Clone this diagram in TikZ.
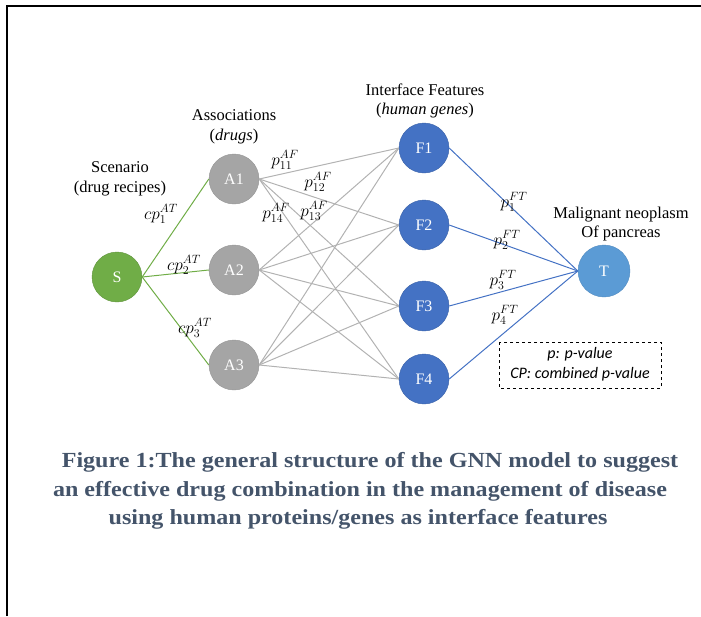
\documentclass[tikz,border=0pt]{standalone}
\usepackage{fontspec}
\usepackage{amsmath}
\setmainfont{Liberation Serif}
\newfontfamily\notefont{Carlito}
\newfontfamily\capfont[FakeStretch=1.12]{Liberation Serif}
\DeclareMathSizes{16}{16}{12}{9}
\definecolor{sgreen}{HTML}{70AD47}
\definecolor{agray}{HTML}{A5A5A5}
\definecolor{fblue}{HTML}{4472C4}
\definecolor{tblue}{HTML}{5B9BD5}
\definecolor{capcol}{HTML}{44546A}

\begin{document}
\begin{tikzpicture}[x=1pt,y=-1pt,
  circ/.style={circle,minimum size=50pt,inner sep=0pt,text=white,font=\fontsize{16}{16}\selectfont},
  lbl/.style={align=center,font=\fontsize{16.5}{19.5}\selectfont},
  wt/.style={font=\fontsize{16}{16}\selectfont,inner sep=0pt},
  captext/.style={text=capcol,font=\capfont\bfseries\fontsize{21.5}{21.5}\selectfont}]
\useasboundingbox (0,0) rectangle (701,616);
\draw[line width=2.5pt] (7,616)--(7,6)--(701,6);
% nodes
\node[circ,fill=sgreen,draw=sgreen!85!black] (S) at (117,277) {S};
\foreach \n/\y in {1/179,2/270,3/365}
  \node[circ,fill=agray,draw=agray!90!black] (A\n) at (234,\y) {A\n};
\foreach \n/\y in {1/148,2/225,3/306,4/379}
  \node[circ,fill=fblue,draw=fblue!85!black] (F\n) at (424,\y) {F\n};
\node[circ,fill=tblue,draw=tblue!90!black,minimum size=52pt] (T) at (604,271) {T};
% edges
\foreach \i in {1,2,3}
  \draw[sgreen,line width=1pt] (S.east) -- (A\i.west);
\foreach \i in {1,2,3}
  \foreach \j in {1,...,4}
    \draw[agray!85,line width=1pt] (A\i.east) -- (F\j.west);
\foreach \j in {1,...,4}
  \draw[fblue,line width=1pt] (F\j.east) -- (T.west);
% titles
\node[lbl] (scen) at (120,179) {Scenario\\(drug recipes)};
\node[lbl] (assoc) at (234,127) {Associations\\(\textit{drugs})};
\node[lbl] (feat) at (425,101) {Interface Features\\(\textit{human genes})};
\node[lbl] (targ) at (621,224) {Malignant neoplasm\\Of pancreas};
% weights
\node[wt] (w1) at (161,214) {$cp_1^{AT}$};
\node[wt] (w2) at (184,265) {$cp_2^{AT}$};
\node[wt] (w3) at (195,328) {$cp_3^{AT}$};
\node[wt] (w11) at (285,160) {$p_{11}^{AF}$};
\node[wt] (w12) at (318,182) {$p_{12}^{AF}$};
\node[wt] (w13) at (314,211) {$p_{13}^{AF}$};
\node[wt] (w14) at (276,213) {$p_{14}^{AF}$};
\node[wt] (v1) at (514,202) {$p_1^{FT}$};
\node[wt] (v2) at (507,240) {$p_2^{FT}$};
\node[wt] (v3) at (503,280) {$p_3^{FT}$};
\node[wt] (v4) at (505,315) {$p_4^{FT}$};
% legend
\draw[dashed] (499,342) rectangle (661,388);
\node[font=\notefont\itshape\fontsize{16}{20}\selectfont,align=center] (note) at (580,364) {p: p-value\\CP: combined p-value};
% caption
\node[captext] (cap1) at (370,462) {Figure 1:The general structure of the GNN model to suggest};
\node[captext] (cap2) at (360,491) {an effective drug combination in the management of disease};
\node[captext] (cap3) at (358,519) {using human proteins/genes as interface features};
\end{tikzpicture}
\end{document}
